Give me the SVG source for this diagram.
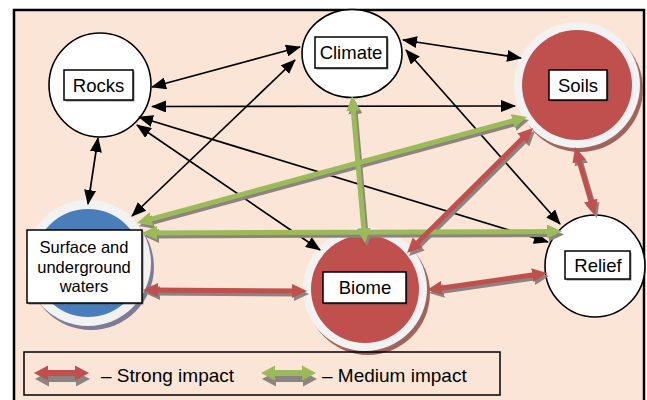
<svg xmlns="http://www.w3.org/2000/svg" width="647" height="400" viewBox="0 0 647 400">
<defs>
<style>
.lbl{fill:#fff;stroke:#000;stroke-width:1.5}
.lsh{fill:#444;opacity:0.6}
.t{font-family:"Liberation Sans",Arial,sans-serif;font-size:18.5px;fill:#000;text-anchor:middle}
.tw{font-family:"Liberation Sans",Arial,sans-serif;font-size:16.5px;fill:#000;text-anchor:middle}
.leg{font-family:"Liberation Sans",Arial,sans-serif;font-size:19px;fill:#000}
.blk{stroke:#000;stroke-width:1.7;fill:none;marker-start:url(#ab);marker-end:url(#ab)}
.red{stroke:#C0504D;stroke-width:5;fill:none;marker-start:url(#ar);marker-end:url(#ar)}
.grn{stroke:#9BBB59;stroke-width:5;fill:none;marker-start:url(#ag);marker-end:url(#ag)}
.sh{stroke:#8C8480;stroke-width:5;fill:none;marker-start:url(#as);marker-end:url(#as)}
.ring{fill:#F2F2F2}
.wc{fill:#fff;stroke:#000;stroke-width:1.6}
</style>
<marker id="ab" markerUnits="userSpaceOnUse" markerWidth="15" markerHeight="12" refX="14" refY="6" orient="auto-start-reverse"><path d="M0,0 L15,6 L0,12 z" fill="#000"/></marker>
<marker id="ar" markerUnits="userSpaceOnUse" markerWidth="15" markerHeight="14" refX="7" refY="7" orient="auto-start-reverse"><path d="M0,0 L15,7 L0,14 z" fill="#C0504D"/></marker>
<marker id="ag" markerUnits="userSpaceOnUse" markerWidth="15" markerHeight="14" refX="7" refY="7" orient="auto-start-reverse"><path d="M0,0 L15,7 L0,14 z" fill="#9BBB59"/></marker>
<marker id="as" markerUnits="userSpaceOnUse" markerWidth="15" markerHeight="14" refX="7" refY="7" orient="auto-start-reverse"><path d="M0,0 L15,7 L0,14 z" fill="#8C8480"/></marker>
<path id="dbl" d="M0,0 L14,-7.5 L14,-3 L41,-3 L41,-7.5 L55,0 L41,7.5 L41,3 L14,3 L14,7.5 z"/>
</defs>

<rect x="14" y="10" width="630" height="400" fill="#FBE5D6" stroke="#000" stroke-width="2.5"/>

<g id="rocks">
<ellipse class="wc" cx="100" cy="85" rx="51" ry="52"/>
<rect class="lsh" x="65.5" y="71.5" width="69" height="30"/>
<rect class="lbl" x="64" y="70" width="69" height="30"/>
<text class="t" x="98.5" y="92">Rocks</text>
</g>

<g id="climate">
<ellipse class="wc" cx="352" cy="53.5" rx="50" ry="44"/>
<rect class="lsh" x="316.5" y="38.5" width="72" height="31"/>
<rect class="lbl" x="315" y="37" width="72" height="31"/>
<text class="t" x="351" y="59">Climate</text>
</g>

<g id="soils">
<circle cx="580" cy="89" r="63" fill="#A0645D"/>
<circle class="ring" cx="577" cy="85" r="63"/>
<circle cx="577" cy="85" r="55" fill="#C0504D"/>
<rect class="lsh" x="550.5" y="71.5" width="58" height="30"/>
<rect class="lbl" x="549" y="70" width="58" height="30"/>
<text class="t" x="578" y="92">Soils</text>
</g>

<g id="waters">
<circle cx="91" cy="267" r="63" fill="#7E7B97"/>
<circle class="ring" cx="88" cy="263" r="63"/>
<circle cx="88" cy="263" r="54" fill="#4A7EBB"/>
<rect class="lsh" x="28.5" y="231.5" width="115" height="73"/>
<rect class="lbl" x="27" y="230" width="115" height="73"/>
<text class="tw" x="84" y="253">Surface and</text>
<text class="tw" x="84" y="272.5">underground</text>
<text class="tw" x="84" y="292">waters</text>
</g>

<g id="biome">
<circle cx="368" cy="293" r="62" fill="#A0645D"/>
<circle class="ring" cx="365" cy="289" r="62"/>
<circle cx="365" cy="289" r="54" fill="#C0504D"/>
<rect class="lsh" x="324.5" y="273.5" width="83" height="31"/>
<rect class="lbl" x="323" y="272" width="83" height="31"/>
<text class="t" x="365" y="294">Biome</text>
</g>

<g id="relief">
<ellipse class="wc" cx="595" cy="266" rx="50" ry="51"/>
<rect class="lsh" x="566.5" y="252.5" width="65" height="28"/>
<rect class="lbl" x="565" y="251" width="65" height="28"/>
<text class="t" x="598" y="272">Relief</text>
</g>

<g id="connectors">
<line class="blk" x1="152" y1="87" x2="300" y2="47"/>
<line class="blk" x1="152" y1="106.5" x2="515" y2="106"/>
<line class="blk" x1="139" y1="117" x2="548" y2="242"/>
<line class="blk" x1="137" y1="125" x2="320" y2="250"/>
<line class="blk" x1="98" y1="138" x2="88" y2="204"/>
<line class="blk" x1="295" y1="60" x2="132" y2="216"/>
<line class="blk" x1="403" y1="40" x2="521" y2="58"/>
<line class="blk" x1="406" y1="50" x2="560" y2="224"/>

<g transform="translate(2,3)">
<line class="sh" x1="352.7" y1="104" x2="364.3" y2="235"/>
<line class="sh" x1="144.7" y1="220.9" x2="519.3" y2="119.1"/>
<line class="sh" x1="150" y1="233" x2="554" y2="231.5"/>
<line class="sh" x1="412.7" y1="247.4" x2="527.3" y2="133.6"/>
<line class="sh" x1="577.3" y1="154.7" x2="592.7" y2="207.3"/>
<line class="sh" x1="151" y1="290" x2="299" y2="291"/>
<line class="sh" x1="434.9" y1="288.9" x2="539.1" y2="274.1"/>
</g>
<line class="grn" x1="352.7" y1="104" x2="364.3" y2="235"/>
<line class="grn" x1="144.7" y1="220.9" x2="519.3" y2="119.1"/>
<line class="grn" x1="150" y1="233" x2="554" y2="231.5"/>
<line class="red" x1="412.7" y1="247.4" x2="527.3" y2="133.6"/>
<line class="red" x1="577.3" y1="154.7" x2="592.7" y2="207.3"/>
<line class="red" x1="151" y1="290" x2="299" y2="291"/>
<line class="red" x1="434.9" y1="288.9" x2="539.1" y2="274.1"/>
</g>

<g id="legend">
<rect x="24" y="352" width="476" height="43" fill="none" stroke="#000" stroke-width="1.5"/>
<use href="#dbl" x="35" y="379" fill="#8C8480"/>
<use href="#dbl" x="34" y="373" fill="#C0504D"/>
<text class="leg" x="101" y="382">– Strong impact</text>
<use href="#dbl" x="262" y="379" fill="#8C8480"/>
<use href="#dbl" x="261" y="373" fill="#9BBB59"/>
<text class="leg" x="322" y="382">– Medium impact</text>
</g>
</svg>
